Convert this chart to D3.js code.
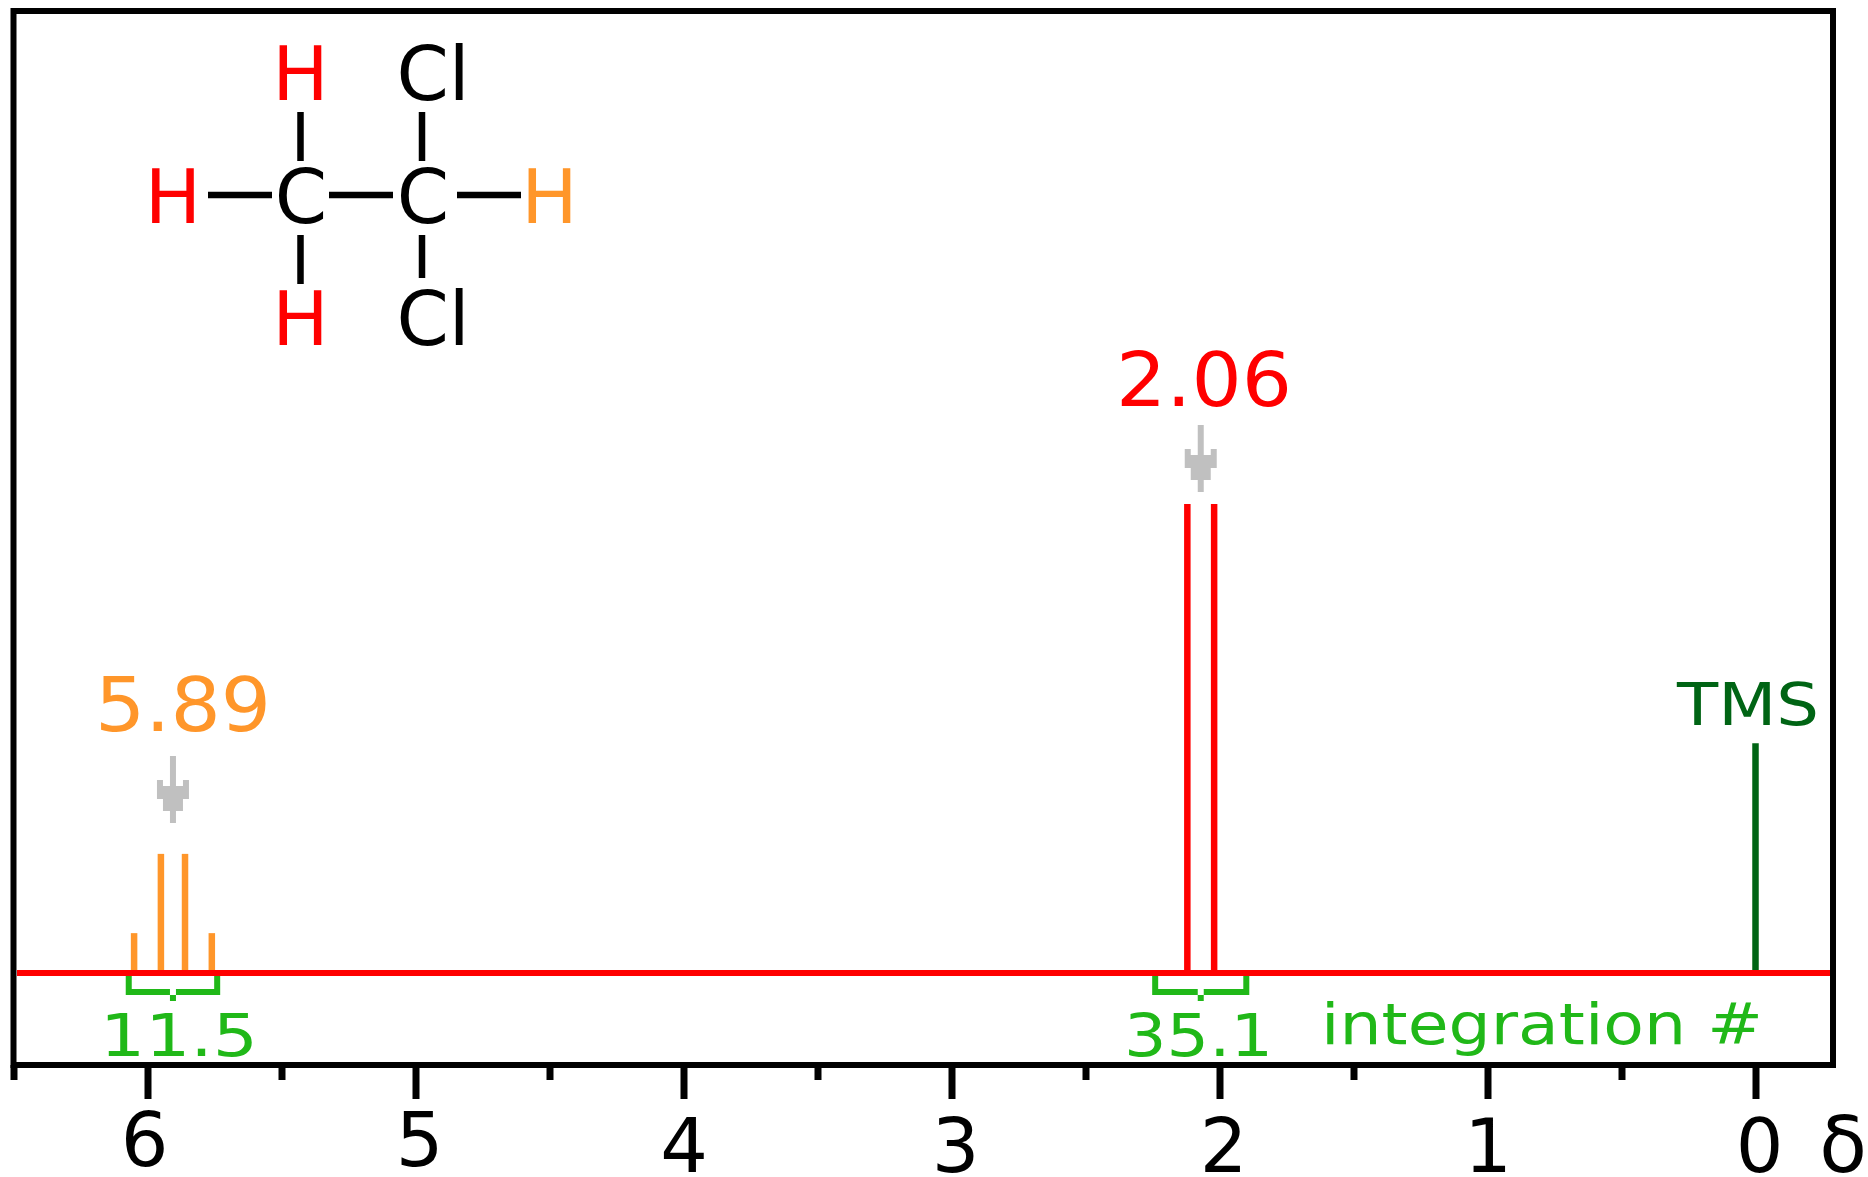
<!DOCTYPE html>
<html>
<head>
<meta charset="UTF-8"/>
<title>1,1-dichloroethane NMR</title>
<script src="https://d3js.org/d3.v7.min.js"></script>
<style>
body { margin: 0; background: #fff; }
svg { display: block; }
text { font-family: 'DejaVu Sans', sans-serif; }
</style>
</head>
<body>
<svg width="1868" height="1177"></svg>
<script>
// chemical shifts (ppm) and relative heights
const quartetShift = [6.05, 5.95, 5.86, 5.76];
const quartetHeight = [0.085, 0.254, 0.254, 0.085];
const doubletShift = [2.12, 2.02];
const doubletHeight = [1, 1];
const tmsShift = [0];
const tmsHeight = [0.49];
const majorTicks = [6, 5, 4, 3, 2, 1, 0];
const minorTicks = [6.5, 5.5, 4.5, 3.5, 2.5, 1.5, 0.5];
const arrowShift = [5.905, 2.07];
const integrals = [[6.07, 5.74], [2.24, 1.9]];

const black = '#000', red = '#ff0000', orange = '#ff962a', green = '#20b818', dark = '#006414', grey = '#c0c0c0';

const svg = d3.select('svg');
const x = d3.scaleLinear().domain([6, 0]).range([147.5, 1755.5]);
const y = d3.scaleLinear().domain([0, 1]).range([973, 504]);

// frame
svg.append('rect').attr('x', 13.5).attr('y', 11).attr('width', 1819.5).attr('height', 1054)
  .attr('fill', 'none').attr('stroke', black).attr('stroke-width', 6);

// axis ticks, major then minor
const axisY = 1065;
svg.append('g').attr('transform', `translate(0,${axisY})`)
  .call(d3.axisBottom(x).tickValues(minorTicks).tickSize(15).tickFormat(''))
  .call(g => g.select('.domain').remove())
  .call(g => g.selectAll('line').attr('stroke', black).attr('stroke-width', 7));

const major = svg.append('g').attr('transform', `translate(0,${axisY})`)
  .call(d3.axisBottom(x).tickValues(majorTicks).tickSize(34).tickFormat(d3.format('d')))
  .call(g => g.select('.domain').remove())
  .call(g => g.selectAll('line').attr('stroke', black).attr('stroke-width', 7));
// the labels sit a little off their ticks in the original
major.selectAll('text')
  .attr('font-size', 75)
  .attr('fill', black)
  .attr('dy', 0)
  .attr('y', d => d >= 5 ? 101 : 107)
  .attr('dx', d => d === 6 ? -3.5 : (d === 4 || d === 1) ? 0 : 3.5);

svg.append('text').attr('x', 1843).attr('y', 1172).attr('text-anchor', 'middle')
  .attr('font-size', 78).attr('fill', black).text('δ');

// peaks
function peaks(shifts, heights, colour) {
  svg.append('g').selectAll('line').data(shifts).join('line')
    .attr('x1', d => x(d)).attr('x2', d => x(d))
    .attr('y1', y(0)).attr('y2', (d, i) => y(heights[i]))
    .attr('stroke', colour).attr('stroke-width', 6.5);
}
peaks(quartetShift, quartetHeight, orange);
peaks(doubletShift, doubletHeight, red);
peaks(tmsShift, tmsHeight, dark);

// baseline
svg.append('line').attr('x1', 17).attr('x2', 1830).attr('y1', y(0)).attr('y2', y(0))
  .attr('stroke', red).attr('stroke-width', 6);

// grey arrows over the multiplets
const arrowTop = [756, 425];
svg.append('g').selectAll('path').data(arrowShift).join('path')
  .attr('transform', (d, i) => `translate(${x(d)},${arrowTop[i]})`)
  .attr('fill', grey)
  .attr('d', 'M-3,0H3V30H10V24H16V43H10V55H3V67H-3V55H-10V43H-16V24H-10V30H-3Z');

// integration brackets
svg.append('g').selectAll('path').data(integrals).join('path')
  .attr('fill', 'none').attr('stroke', green).attr('stroke-width', 6)
  .attr('d', d => {
    const a = x(d[0]), b = x(d[1]), m = (a + b) / 2;
    const p = d3.path();
    p.moveTo(a, 976); p.lineTo(a, 992); p.lineTo(m - 3, 992);
    p.moveTo(m + 3, 992); p.lineTo(b, 992); p.lineTo(b, 976);
    p.moveTo(m, 995); p.lineTo(m, 1001);
    return p.toString();
  });

// text labels, stretched to the width they take in the picture
function label(txt, left, width, base, size, colour) {
  svg.append('text')
    .attr('x', left).attr('y', base)
    .attr('font-size', size).attr('fill', colour)
    .attr('textLength', width).attr('lengthAdjust', 'spacingAndGlyphs')
    .text(txt);
}
label('5.89', 95, 176, 731, 75, orange);
label('2.06', 1116, 176, 406, 75, red);
label('TMS', 1677, 142, 725, 59, dark);
label('11.5', 100, 158, 1056, 59, green);
label('35.1', 1124, 149, 1056, 59, green);
label('integration #', 1321, 442, 1044, 57, green);

// structure of the molecule
const bonds = [
  [300.5, 112, 300.5, 161], [422, 112, 422, 161],
  [208, 195, 272, 195], [329, 195, 393, 195], [457, 195, 521, 195],
  [300.5, 235, 300.5, 284], [422, 235, 422, 278]
];
svg.append('g').selectAll('line').data(bonds).join('line')
  .attr('x1', d => d[0]).attr('y1', d => d[1]).attr('x2', d => d[2]).attr('y2', d => d[3])
  .attr('stroke', black).attr('stroke-width', 6.5);

const atoms = [
  ['H', 300.5, 100, red], ['Cl', 433, 100, black],
  ['H', 173, 223, red], ['C', 301, 223, black], ['C', 423, 223, black], ['H', 549.5, 223, orange],
  ['H', 300.5, 345, red], ['Cl', 433, 345, black]
];
svg.append('g').selectAll('text').data(atoms).join('text')
  .attr('x', d => d[1]).attr('y', d => d[2]).attr('fill', d => d[3])
  .attr('text-anchor', 'middle').attr('font-size', 75)
  .text(d => d[0]);
</script>
</body>
</html>
